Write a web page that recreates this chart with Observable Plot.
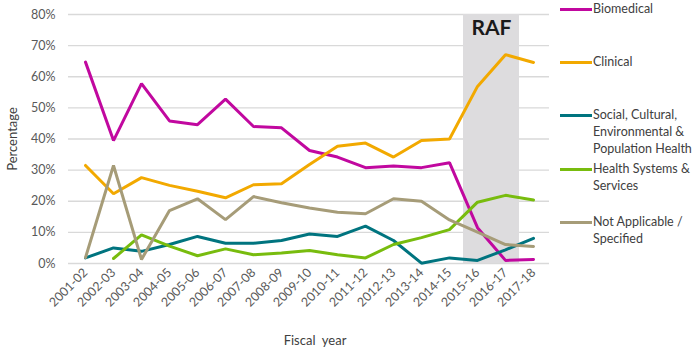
<!DOCTYPE html>
<html><head><meta charset="utf-8">
<script src="https://cdn.jsdelivr.net/npm/d3@7"></script>
<script src="https://cdn.jsdelivr.net/npm/@observablehq/plot@0.6"></script>
<style>
body{margin:0;background:#fff;}
#wrap{position:relative;width:700px;height:350px;font-family:Lato,sans-serif;overflow:hidden;}
#legend{position:absolute;left:560px;top:0;width:140px;height:350px;}
.item{position:absolute;left:0;display:flex;align-items:flex-start;font-size:12.5px;color:#404040;line-height:17px;white-space:pre-line;}
.sw{width:32px;height:3px;margin-top:8px;flex:none;}
.lbl{margin-left:1px;}
</style></head><body><div id="wrap"><div id="chart"></div><div id="legend"></div></div>
<script>
const years = ["2001-02","2002-03","2003-04","2004-05","2005-06","2006-07","2007-08","2008-09","2009-10","2010-11","2011-12","2012-13","2013-14","2014-15","2015-16","2016-17","2017-18"];
const seriesNames = ["Biomedical","Clinical","Social, Cultural, Environmental & Population Health","Health Systems & Services","Not Applicable / Specified"];
const legendLabels = ["Biomedical","Clinical","Social, Cultural,\nEnvironmental &\nPopulation Health","Health Systems &\nServices","Not Applicable /\nSpecified"];
const colors = ["#c1089f","#f2a900","#00747f","#78bc0e","#a69c78"];
const biomedical = [64.7,39.5,57.8,45.8,44.6,52.8,44.0,43.6,36.3,34.2,30.8,31.3,30.8,32.4,11.5,1.0,1.3];
const clinical   = [31.5,22.4,27.6,25.1,23.2,21.1,25.3,25.6,31.8,37.7,38.7,34.2,39.5,40.0,56.9,67.1,64.6];
const social     = [1.8,5.0,3.9,6.1,8.7,6.5,6.5,7.4,9.5,8.7,12.0,7.4,0.1,1.8,1.0,4.4,8.1];
const healthSys  = [null,1.6,9.2,5.6,2.5,4.7,2.8,3.4,4.2,2.8,1.8,6.1,8.3,10.9,19.7,21.9,20.4];
const notApplic  = [1.9,31.5,1.3,17.0,20.8,14.1,21.5,19.5,17.8,16.5,16.0,20.8,20.0,14.0,10.1,6.1,5.5];
const yTicks = [0,10,20,30,40,50,60,70,80];
const rafYears = ["2015-16","2016-17"];
const rafLabel = "RAF";
const xLabel = "Fiscal\u00a0 year";
const yLabel = "Percentage";

const seriesValues = [biomedical, clinical, social, healthSys, notApplic];
const data = [];
seriesNames.forEach((s, k) => seriesValues[k].forEach((v, i) => data.push({year: years[i], value: v, series: s})));

const chart = Plot.plot({
  width: 700, height: 350,
  marginLeft: 68, marginRight: 151, marginTop: 14, marginBottom: 87,
  style: {fontFamily: "Lato, sans-serif", fontSize: "12px", color: "#595959", background: "white"},
  x: {type: "band", domain: years, padding: 0, label: null},
  y: {domain: [0, 80], label: null},
  color: {domain: seriesNames, range: colors},
  marks: [
    Plot.ruleY(yTicks, {stroke: "#d9d9d9", strokeWidth: 1.3}),
    Plot.barY(rafYears, {x: d => d, y1: 0, y2: 80, fill: "#dddcde", insetLeft: 0, insetRight: 0}),
    Plot.axisY({ticks: yTicks, tickSize: 0, tickPadding: 13, tickFormat: d => d + "%", fontSize: 12.5, label: null}),
    Plot.axisX({tickSize: 0, tickRotate: -45, tickPadding: 7, fontSize: 12.5, label: null}),
    Plot.line(data, {x: "year", y: "value", z: "series", stroke: "series", strokeWidth: 3, strokeLinejoin: "miter"}),
    Plot.text([rafLabel], {x: () => rafYears[0], y: () => 75.5, dx: 14, fontWeight: "bold", fontSize: 21, fill: "#1a1a1a", lineAnchor: "middle"}),
    Plot.text([xLabel], {frameAnchor: "bottom", textAnchor: "middle", lineAnchor: "middle", dy: 77, dx: 6, fontSize: 13, fill: "#404040"}),
    Plot.text([yLabel], {frameAnchor: "left", textAnchor: "middle", lineAnchor: "middle", rotate: -90, dx: -56, fontSize: 13, fill: "#404040"})
  ]
});
document.getElementById("chart").append(chart);

const legendTops = [0, 53, 106, 160, 213];
const legend = document.getElementById("legend");
legendLabels.forEach((lab, k) => {
  const it = document.createElement("div");
  it.className = "item";
  it.style.top = legendTops[k] + "px";
  const sw = document.createElement("div");
  sw.className = "sw";
  sw.style.background = colors[k];
  const tx = document.createElement("div");
  tx.className = "lbl";
  tx.textContent = lab;
  it.append(sw, tx);
  legend.append(it);
});
</script></body></html>
